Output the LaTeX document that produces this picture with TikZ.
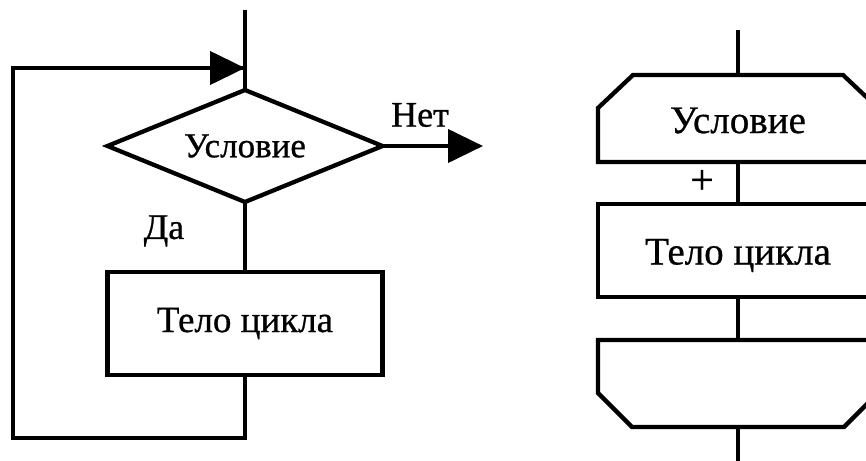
\documentclass[tikz,border=0pt]{standalone}
\usepackage{fontspec}
\setmainfont{Liberation Serif}[FakeBold=0.7]
\usetikzlibrary{arrows.meta,shapes.geometric,calc}
\begin{document}
\begin{tikzpicture}[x=1pt,y=-1pt,
  line width=4.3pt, line join=miter,
  lbl/.style={font=\fontsize{36}{40}\selectfont, inner sep=0pt},
  cond/.style={diamond, draw, aspect=2.45, minimum width=275pt, minimum height=112pt,
    inner sep=0pt, outer sep=0pt, font=\fontsize{35}{38}\selectfont},
  body/.style={rectangle, draw, minimum width=275pt, minimum height=103pt,
    inner sep=0pt, outer sep=0pt, font=\fontsize{37}{40}\selectfont},
  block/.style={rectangle, minimum width=280pt, minimum height=87pt,
    inner sep=0pt, outer sep=0pt, font=\fontsize{39}{42}\selectfont},
  bigtip/.style={-{Triangle[length=35pt,width=33pt]}}]
\useasboundingbox (0,0) rectangle (866,460);
\clip (0,0) rectangle (866,460);

% --- while loop drawn as a diamond with a back edge ---
\coordinate (in1) at (245,10);
\node[cond] (c1) at (245,146) {Условие};
\node[body] (b1) at (245,323.5) {Тело цикла};
\coordinate (r1) at (245,438);
\coordinate (r2) at (13,438);
\coordinate (r3) at (13,68);
\coordinate (r4) at (245,68);
\coordinate (out1) at (483,146);

\draw (in1) -- (c1.north);
\draw (c1.south) -- (b1.north);
\draw (b1.south) -- (r1) -- (r2) -- (r3) -- (r4);
\draw[bigtip] (r3) -- (r4);
\draw[bigtip] (c1.east) -- (out1);
\node[lbl] (no) at (420,115) {Нет};
\node[lbl] (yes) at (164,231) {Да};

% --- the same loop drawn with loop-boundary blocks ---
\coordinate (in2) at (738,30);
\node[block, label={[font=\fontsize{39}{42}\selectfont, yshift=-2pt]center:Условие}]
  (c2) at (738,118.5) {};
\node[body, minimum width=280pt, minimum height=93pt,
  label={[font=\fontsize{39}{42}\selectfont, yshift=-5pt]center:Тело цикла}]
  (b2) at (738,250.5) {};
\node[block] (e2) at (738,383.5) {};
\coordinate (out2) at (738,470);

% loop start: chamfered top corners
\draw ($(c2.north west)+(35,0)$) -- ($(c2.north east)+(-35,0)$)
  -- ($(c2.north east)+(0,33)$) -- (c2.south east) -- (c2.south west)
  -- ($(c2.north west)+(0,33)$) -- cycle;
% loop end: chamfered bottom corners
\draw (e2.north west) -- (e2.north east) -- ($(e2.south east)+(0,-34)$)
  -- ($(e2.south east)+(-34,0)$) -- ($(e2.south west)+(34,0)$)
  -- ($(e2.south west)+(0,-34)$) -- cycle;

\draw (in2) -- (c2.north);
\draw (c2.south) -- (b2.north);
\draw (b2.south) -- (e2.north);
\draw (e2.south) -- (out2);
\node[font=\fontsize{42}{44}\selectfont, inner sep=0pt] (plus) at (702,182) {+};
\end{tikzpicture}
\end{document}
